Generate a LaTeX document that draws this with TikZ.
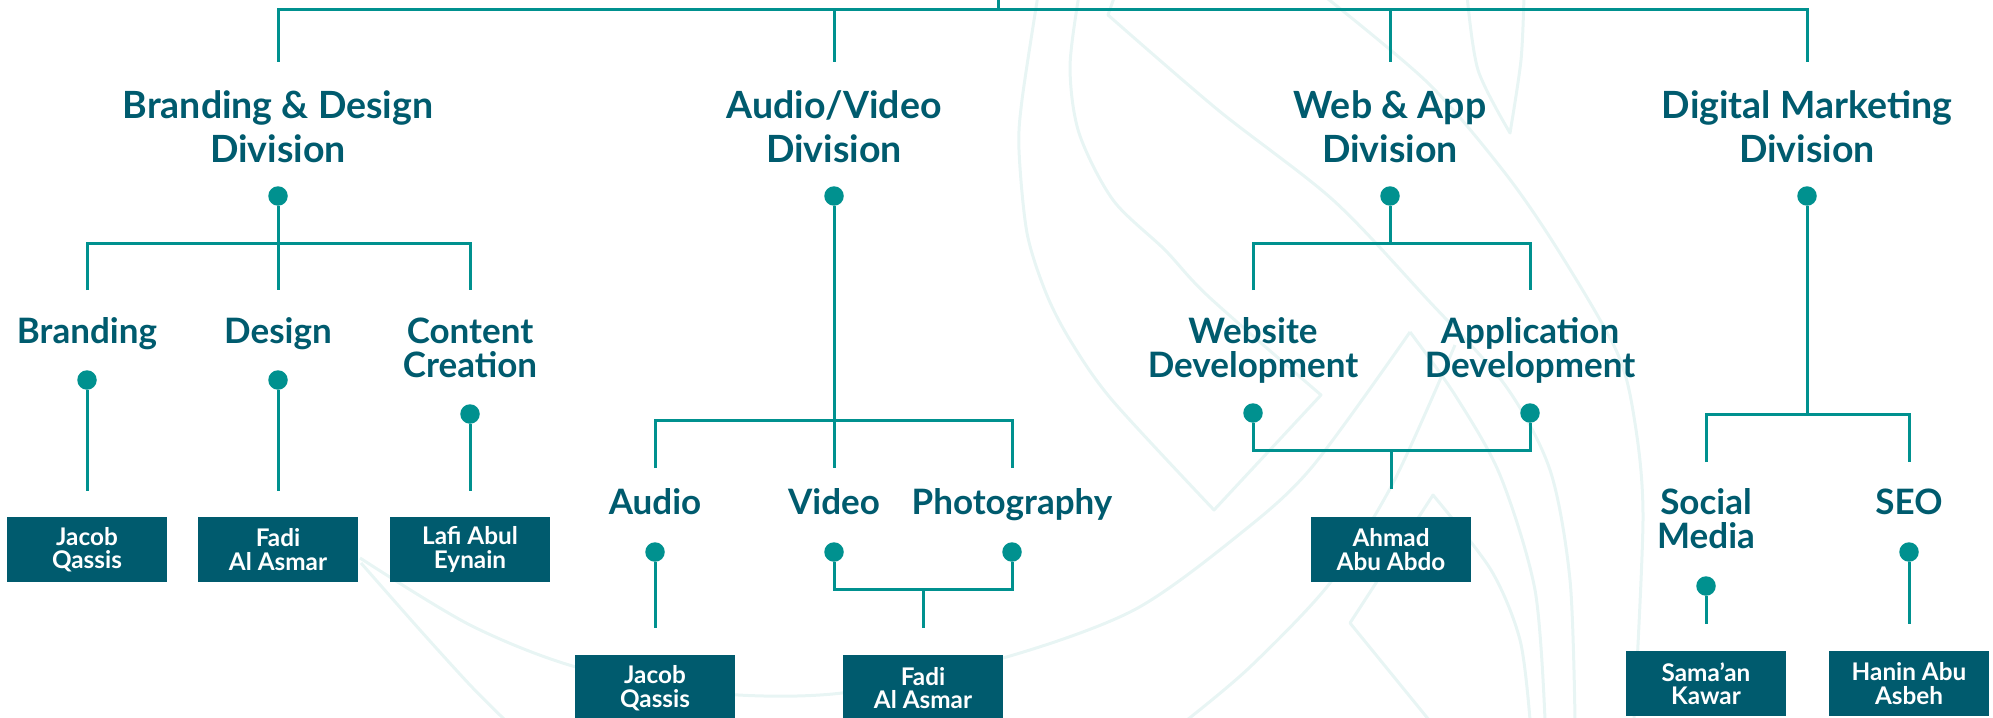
\documentclass[tikz,border=0pt]{standalone}
\usepackage{fontspec}
\setmainfont{Lato}
\definecolor{txtc}{HTML}{005B6E}
\definecolor{boxc}{HTML}{005B6E}
\definecolor{linec}{HTML}{00918F}
\definecolor{wmc}{HTML}{E8F5F4}
\tikzset{
  divlabel/.style={text=txtc, font=\bfseries\fontsize{37.5}{44}\selectfont, align=center, inner sep=0, anchor=base},
  sublabel/.style={text=txtc, font=\bfseries\fontsize{35}{34}\selectfont, align=center, inner sep=0, anchor=base},
  person/.style={fill=boxc, text=white, minimum width=160, minimum height=65, inner sep=0,
    font=\bfseries\fontsize{24.3}{23.5}\selectfont, align=center},
  pin/.style={circle, fill=linec, minimum size=19.5, inner sep=0},
  conn/.style={draw=linec, line width=3},
  wm/.style={draw=wmc, line width=3, line join=round}
}
\begin{document}
\begin{tikzpicture}[x=1pt,y=-1pt]
\useasboundingbox (0,0) rectangle (1993,717);
% watermark
\draw[wm] plot[smooth] coordinates {(1038,-5) (1022,100) (1019,150) (1027,233) (1046,293) (1070,340) (1112,400) (1214,510)}
  -- (1321,395)
  -- plot[smooth] coordinates {(1321,395) (1209,297) (1165,250) (1113,200) (1079,133) (1070,67) (1079,-5)};
\draw[wm] (1115,-5) -- (1108,15) -- plot[smooth] coordinates {(1108,15) (1218,110) (1333,200) (1428,300) (1505,385) (1550,470) (1570,580) (1575,720)};
\draw[wm] plot[smooth] coordinates {(1323,-5) (1428,83) (1505,173) (1558,250) (1616,350) (1634,417) (1643,517) (1634,720)};
\draw[wm] plot[smooth] coordinates {(1467,-5) (1478,70) (1510,133)} -- plot[smooth] coordinates {(1510,133) (1521,60) (1524,-5)};
\draw[wm] plot[smooth] coordinates {(360,558) (470,625) (576,667) (712,693) (842,693) (1003,658) (1134,610) (1241,533) (1312,467) (1410,332)};
\draw[wm] plot[smooth] coordinates {(1410,332) (1455,395) (1500,475) (1535,590) (1545,720)};
\draw[wm] plot[smooth] coordinates {(361,563) (420,630) (470,685) (505,720)};
\draw[wm] (1429,720) -- (1350,623) -- (1433,495) -- plot[smooth] coordinates {(1433,495) (1491,570) (1520,640) (1530,720)};
\draw[wm] plot[smooth] coordinates {(1455,345) (1393,483) (1330,583) (1250,667) (1187,720)};
% top
\coordinate (top) at (998,-2);
\coordinate (tj) at (998,10);
\coordinate (tl) at (278,10);
\coordinate (tr) at (1807,10);
\draw[conn] (top) -- (tj);
\draw[conn] (278,62) -- (tl) -- (tr) -- (1807,62);
\coordinate (d2) at (834,10); \draw[conn] (d2) -- (834,62);
\coordinate (d3) at (1390,10); \draw[conn] (d3) -- (1390,62);
% division labels
\node[divlabel] (bd) at (278,162) {Branding \& Design\\Division};
\node[divlabel] (av) at (834,162) {Audio/Video\\Division};
\node[divlabel] (wa) at (1390,162) {Web \& App\\Division};
\node[divlabel] (dm) at (1807,162) {Digital Marketing\\Division};
% division pins
\node[pin] (pbd) at (278,196) {};
\node[pin] (pav) at (834,196) {};
\node[pin] (pwa) at (1390,196) {};
\node[pin] (pdm) at (1807,196) {};
% ---- Branding & Design
\coordinate (bdj) at (278,243);
\draw[conn] (pbd) -- (bdj);
\draw[conn] (87,290) -- (87,243) -- (470,243) -- (470,290);
\draw[conn] (bdj) -- (278,290);
\node[sublabel] (br) at (87,343) {Branding};
\node[sublabel] (de) at (278,343) {Design};
\node[sublabel] (cc) at (470,377) {Content\\Creation};
\node[pin] (pbr) at (87,380) {};
\node[pin] (pde) at (278,380) {};
\node[pin] (pcc) at (470,414) {};
\node[person] (jq1) at (87,549.5) {Jacob\\Qassis};
\node[person] (fa1) at (278,549.5) {Fadi\\Al Asmar};
\node[person] (la) at (470,549.5) {Lafi Abul\\Eynain};
\draw[conn] (pbr) -- (87,491);
\draw[conn] (pde) -- (278,491);
\draw[conn] (pcc) -- (470,491);
% ---- Audio/Video
\coordinate (avj) at (834,420);
\draw[conn] (pav) -- (avj) -- (834,468);
\draw[conn] (655,468) -- (655,420) -- (1012,420) -- (1012,468);
\node[sublabel] (au) at (655,514) {Audio};
\node[sublabel] (vi) at (834,514) {Video};
\node[sublabel] (ph) at (1012,514) {Photography};
\node[pin] (pau) at (655,552) {};
\node[pin] (pvi) at (834,552) {};
\node[pin] (pph) at (1012,552) {};
\node[person, minimum height=66] (jq2) at (655,688) {Jacob\\Qassis};
\node[person, minimum height=66] (fa2) at (923,688) {Fadi\\Al Asmar};
\draw[conn] (pau) -- (655,628);
\coordinate (vpj) at (923,589);
\draw[conn] (pvi) -- (834,589) -- (1012,589) -- (pph);
\draw[conn] (vpj) -- (923,628);
% ---- Web & App
\coordinate (waj) at (1390,243);
\draw[conn] (pwa) -- (waj);
\draw[conn] (1253,290) -- (1253,243) -- (1530,243) -- (1530,290);
\node[sublabel] (wd) at (1253,377) {Website\\Development};
\node[sublabel] (ad) at (1530,377) {Application\\Development};
\node[pin] (pwd) at (1253,413) {};
\node[pin] (pad) at (1530,413) {};
\coordinate (wdj) at (1391,450);
\draw[conn] (pwd) -- (1253,450) -- (1530,450) -- (pad);
\draw[conn] (wdj) -- (1391,489);
\node[person] (aa) at (1391,549.5) {Ahmad\\Abu Abdo};
% ---- Digital Marketing
\coordinate (dmj) at (1807,414);
\draw[conn] (pdm) -- (dmj);
\draw[conn] (1706,462) -- (1706,414) -- (1909,414) -- (1909,462);
\node[sublabel] (sm) at (1706,548) {Social\\Media};
\node[sublabel] (se) at (1909,514) {SEO};
\node[pin] (psm) at (1706,586) {};
\node[pin] (pse) at (1909,552) {};
\draw[conn] (psm) -- (1706,624);
\draw[conn] (pse) -- (1909,624);
\node[person] (sk) at (1706,683.5) {Sama’an\\Kawar};
\node[person] (ha) at (1909,683.5) {Hanin Abu\\Asbeh};
\end{tikzpicture}
\end{document}
